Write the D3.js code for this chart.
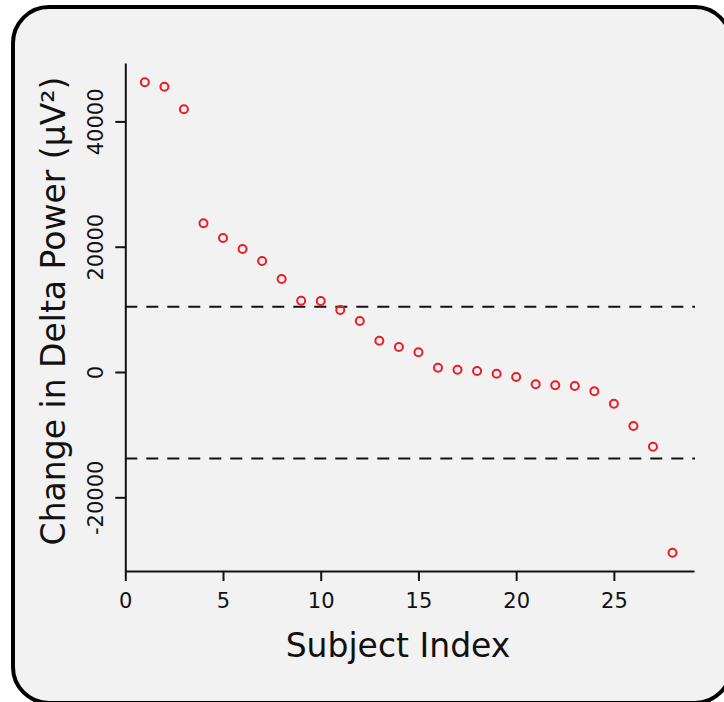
<!DOCTYPE html>
<html>
<head>
<meta charset="utf-8">
<script src="https://cdn.jsdelivr.net/npm/d3@7"></script>
<style>
  html, body { margin: 0; padding: 0; background: #ffffff; }
  svg { display: block; font-family: "DejaVu Sans", Verdana, sans-serif; }
</style>
</head>
<body>
<svg id="chart" width="724" height="702"></svg>
<script>
// Subject indices and change in delta power
const subjects = d3.range(1, 29);
const deltaChange = [
  46240, 45530, 41930, 23730, 21390, 19630, 17720, 14840, 11380, 11330,
  9900, 8140, 5000, 3990, 3140, 690, 370, 160, -270, -800,
  -1960, -2120, -2230, -3080, -5060, -8620, -11920, -28840
];
// Dashed threshold lines
const thresholds = [10420, -13800];
const xTicks = [0, 5, 10, 15, 20, 25];
const yTicks = [-20000, 0, 20000, 40000];

const svg = d3.select("#chart");

// rounded panel, spills past right and bottom edge
svg.append("rect")
  .attr("x", 13).attr("y", 7)
  .attr("width", 718).attr("height", 696)
  .attr("rx", 36).attr("ry", 36)
  .attr("fill", "#f2f2f2")
  .attr("stroke", "#000")
  .attr("stroke-width", 4);

const x = d3.scaleLinear().domain([0, 29.1]).range([125.3, 694]);
const y = d3.scaleLinear().domain([-31760, 49320]).range([571, 63]);

const ink = "#111";

// x axis
const gx = svg.append("g")
  .attr("transform", `translate(0,${y.range()[0]})`)
  .call(d3.axisBottom(x).tickValues(xTicks).tickSize(10).tickSizeOuter(0));
gx.select(".domain").attr("stroke", ink).attr("stroke-width", 2);
gx.selectAll(".tick line").attr("stroke", ink).attr("stroke-width", 2);
gx.selectAll(".tick text")
  .attr("y", 37).attr("dy", 0)
  .attr("fill", ink)
  .style("font-size", "21px")
  .style("font-family", "DejaVu Sans");

// y axis, labels turned sideways, plain hyphen for negatives
const gy = svg.append("g")
  .attr("transform", `translate(${x.range()[0]},0)`)
  .call(d3.axisLeft(y).tickValues(yTicks).tickSize(10).tickSizeOuter(0).tickFormat(d => String(d)));
gy.select(".domain").attr("stroke", ink).attr("stroke-width", 2);
gy.selectAll(".tick line").attr("stroke", ink).attr("stroke-width", 2);
gy.selectAll(".tick text")
  .attr("x", 0).attr("y", -22).attr("dy", 0)
  .attr("transform", "rotate(-90)")
  .attr("text-anchor", "middle")
  .attr("fill", ink)
  .style("font-size", "21px")
  .style("font-family", "DejaVu Sans");

// threshold lines
svg.append("g").selectAll("line")
  .data(thresholds)
  .join("line")
  .attr("x1", x.range()[0]).attr("x2", x.range()[1] + 1)
  .attr("y1", d => y(d)).attr("y2", d => y(d))
  .attr("stroke", ink)
  .attr("stroke-width", 2)
  .attr("stroke-dasharray", "12,9");

// points
svg.append("g").selectAll("circle")
  .data(deltaChange)
  .join("circle")
  .attr("cx", (d, i) => x(subjects[i]))
  .attr("cy", d => y(d))
  .attr("r", 4)
  .attr("fill", "none")
  .attr("stroke", "#ec1c24")
  .attr("stroke-width", 2);

// axis titles
svg.append("text")
  .attr("x", 398).attr("y", 657)
  .attr("text-anchor", "middle")
  .attr("fill", ink)
  .style("font-size", "33px")
  .text("Subject Index");

svg.append("text")
  .attr("transform", "translate(65,311) rotate(-90)")
  .attr("text-anchor", "middle")
  .attr("fill", ink)
  .style("font-size", "33px")
  .text("Change in Delta Power (μV²)");
</script>
</body>
</html>
